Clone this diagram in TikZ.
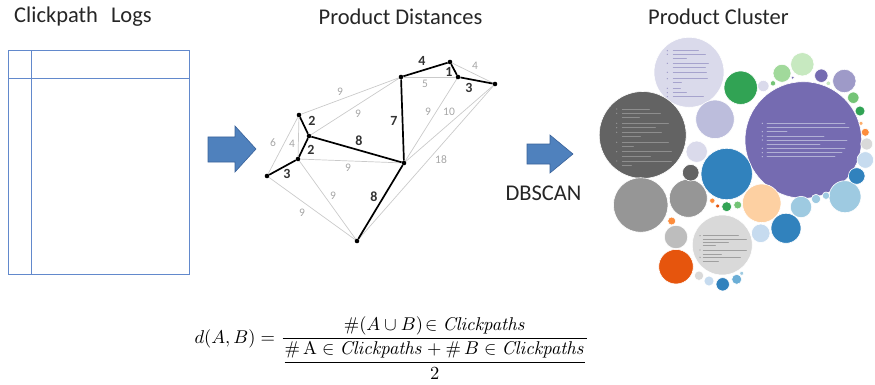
\documentclass[tikz,border=0pt]{standalone}
\usepackage[no-math]{fontspec}
\setmainfont{Carlito}
\usepackage{amsmath}

\definecolor{logblue}{HTML}{6289CC}
\definecolor{arrowblue}{HTML}{4F81BD}
\definecolor{arrowedge}{HTML}{3A629A}
\definecolor{linegray}{HTML}{CACACA}
\definecolor{labgray}{HTML}{A6A6A6}
% bubble colours
\definecolor{pu1}{HTML}{756BB1}
\definecolor{pu2}{HTML}{9E9AC8}
\definecolor{pu3}{HTML}{BCBDDC}
\definecolor{pu4}{HTML}{DADAEB}
\definecolor{gy1}{HTML}{636363}
\definecolor{gy2}{HTML}{969696}
\definecolor{gy3}{HTML}{BDBDBD}
\definecolor{gy4}{HTML}{D9D9D9}
\definecolor{bl1}{HTML}{3182BD}
\definecolor{bl2}{HTML}{6BAED6}
\definecolor{bl3}{HTML}{9ECAE1}
\definecolor{bl4}{HTML}{C6DBEF}
\definecolor{or1}{HTML}{E6550D}
\definecolor{or2}{HTML}{FD8D3C}
\definecolor{or3}{HTML}{FDAE6B}
\definecolor{or4}{HTML}{FDD0A2}
\definecolor{gr1}{HTML}{31A354}
\definecolor{gr2}{HTML}{74C476}
\definecolor{gr3}{HTML}{A1D99B}
\definecolor{gr4}{HTML}{C7E9C0}

\begin{document}
\begin{tikzpicture}[x=1pt,y=-1pt,
  dot/.style={circle,fill=black,inner sep=0pt,minimum size=4.6pt},
  mst/.style={line width=1.7pt,black},
  alt/.style={line width=0.7pt,linegray},
  wlab/.style={font=\fontsize{14}{14}\selectfont\bfseries,text=black!80,inner sep=0pt},
  glab/.style={font=\fontsize{11.5}{11.5}\selectfont,text=labgray,inner sep=0pt},
  title/.style={font=\fontsize{22.5}{26}\selectfont,text=black!85,inner sep=0pt},
  logline/.style={logblue,line width=1pt},
  blockarrow/.style={fill=arrowblue,draw=arrowedge,line width=0.6pt},
  txtline/.style={line width=0.9pt,line cap=round,opacity=0.85}]
  \useasboundingbox (0,0) rectangle (875,385);

  % headings
  \node[title] (logs) at (83,17) {Clickpath\hspace{13pt}Logs};
  \node[title] (dist) at (400.5,17) {Product Distances};
  \node[title] (clus) at (718.5,17) {Product Cluster};
  \node[title] (dbscan) at (543.5,193) {DBSCAN};

  % log table
  \draw[logline] (8,51) rectangle (189,274);
  \draw[logline] (8,79) -- (189,79);
  \draw[logline] (31,51) -- (31,274);

  % block arrows
  \draw[blockarrow] (208,137) -- (235,137) -- (235,126) -- (256,149)
    -- (235,172) -- (235,162) -- (208,162) -- cycle;
  \draw[blockarrow] (527,144) -- (550,144) -- (550,135) -- (573,154)
    -- (550,173) -- (550,164) -- (527,164) -- cycle;

  % distance graph
  \node[dot] (n1) at (299,115) {};
  \node[dot] (n2) at (309,136) {};
  \node[dot] (n3) at (298,159) {};
  \node[dot] (n4) at (267,176) {};
  \node[dot] (n5) at (401,77) {};
  \node[dot] (n6) at (450,62) {};
  \node[dot] (n7) at (458,77) {};
  \node[dot] (n8) at (495,84) {};
  \node[dot] (n9) at (404,163) {};
  \node[dot] (n10) at (357,241) {};

  \foreach \a/\b in {n1/n5,n2/n5,n1/n4,n1/n3,n3/n9,n3/n10,n4/n10,
                     n5/n7,n6/n8,n9/n7,n9/n8,n10/n8}
    \draw[alt] (\a) -- (\b);
  \foreach \a/\b in {n1/n2,n2/n3,n3/n4,n2/n9,n5/n9,n5/n6,n6/n7,n7/n8,n9/n10}
    \draw[mst] (\a) -- (\b);

  \foreach \x/\y/\t [count=\i] in {340/92/9,358/114/9,273/143/6,292/144/4,
      348/168/9,333/196/9,302/213/9,441/160/18,428/112/9,449/112/10,
      425/84/5,475/66/4}
    \node[glab] (gl\i) at (\x,\y) {\t};
  \foreach \x/\y/\t [count=\i] in {312/121/2,311/150/2,359/141/8,394/121/7,
      287/174/3,374/197/8,422/61/4,449/72/1,469/88/3}
    \node[wlab] (wl\i) at (\x,\y) {\t};

  % product cluster bubbles
  \foreach \x/\y/\r/\c in {803.3/140/58.3/pu1, 689/72.3/35/pu4,
      642.7/135/43.5/gy1, 726.7/174/25.7/bl1, 715/119.3/19.3/pu3,
      740.7/87.7/16.7/gr1, 640.7/205/27.3/gy2, 688.3/198.3/19/gy2,
      690.7/172.7/8.3/gy1, 696.7/151.7/10.7/pu4, 722.3/245/30/gy4,
      676/266.7/17.3/or1, 676/237/11.7/gy3, 761.7/203.3/19.3/or4,
      786/228.3/15/bl1, 760.7/233.3/9.3/bl4, 845/196.7/16/bl3,
      801/207/10.7/bl3, 816/199/4.7/bl3, 826/195.7/3.7/bl3,
      856.7/176/8.3/bl1, 865.3/160/8.3/bl4, 866.7/144/6/gy4,
      865.3/132.3/4/or2, 861/123.3/2/or3, 860/111/5/gr1,
      853.3/97.7/5.7/gr2, 844.3/81/11.7/pu2, 821.3/75.7/6.7/pu1,
      802.3/64.3/11.7/gr4, 782/73.3/9/gr3, 763.3/86/5.7/pu4,
      773/83.3/2.7/gr2, 792.7/77.7/1.7/pu1, 828.3/83.3/2.3/gr4,
      726.7/206.7/5/gr1, 737.7/205/4/gr2, 712.3/200.7/2.7/or2,
      717.7/206/2/or1, 671.7/221/4/or2, 699/275.7/4.7/gy4,
      709/281/5/bl4, 722.7/284.3/6.7/bl1, 736.7/279.3/5/bl2,
      741.7/273.3/2/bl3}
    \fill[\c,draw=white,line width=0.6pt] (\x,\y) circle (\r pt);

  % bullet text inside the labelled bubbles
  \foreach \y/\l in {50.7/25,54.3/32,58.3/13,63.3/35,67.7/32,72.3/33,
      78.7/34,82.7/8,88.3/7,92.7/13,96.7/30}
    \draw[txtline,pu2] (673.3,\y) -- ++(\l,0);
  \foreach \y in {50.7,54.3,63.3,72.3,78.7,88.3,92.7,96.7}
    \fill[pu2] (667.3,\y) circle (0.7pt);

  \foreach \y/\l in {109/27,113.3/38,117.3/17,123.3/46,127.7/33,132.3/39,
      136.7/18,142.3/46,146.7/11,151.7/49,156/28,161/49,165.3/9}
    \draw[txtline,gy2] (622.3,\y) -- ++(\l,0);
  \foreach \y in {109,113.3,123.3,127.7,132.3,142.3,151.7,161}
    \fill[gy2] (616.7,\y) circle (0.7pt);

  \foreach \y/\l in {123.3/78,127.3/82,131.7/20,136/57,140/80,144/53,
      148.3/78,152.7/75,156.7/68}
    \draw[txtline,pu3] (767,\y) -- ++(\l,0);
  \foreach \y in {123.3,131.7,136,140,148.3,152.7,156.7}
    \fill[pu3] (762.3,\y) circle (0.7pt);

  \foreach \y/\l in {235.7/35,239/43,242.3/25,245.7/12,250/43,254/18,
      257.3/37,261.7/15}
    \draw[txtline,gy2] (703.3,\y) -- ++(\l,0);
  \foreach \y in {235.7,250,257.3}
    \fill[gy2] (700,\y) circle (0.7pt);

  % distance formula
  \node (dform) at (392,348) {\scalebox{1.85}{$\displaystyle
    d(A,B)=\frac{\#(A\cup B)\!\in \mathit{Clickpaths}}
    {\dfrac{\#\,\mathrm{A}\in\mathit{Clickpaths}+\#\,B\in\mathit{Clickpaths}}{2}}$}};
\end{tikzpicture}
\end{document}
